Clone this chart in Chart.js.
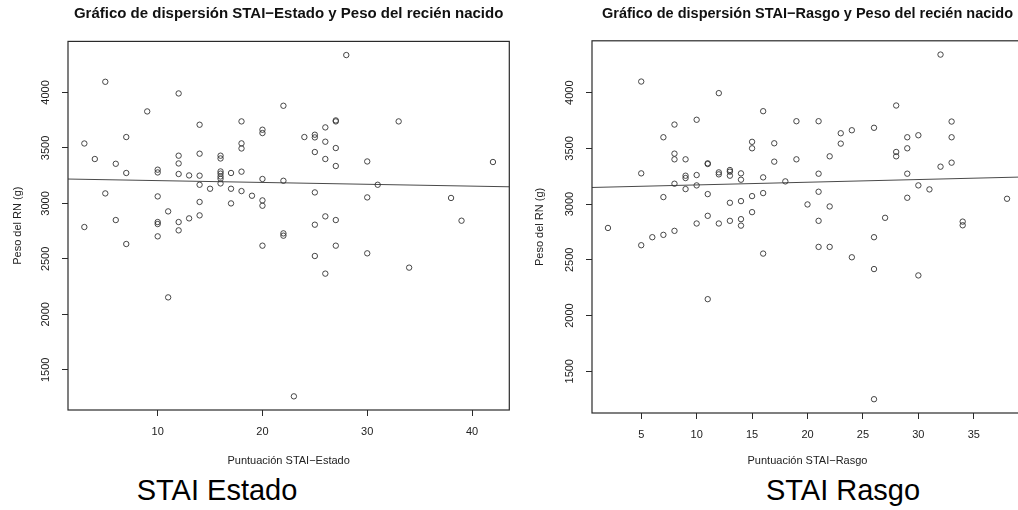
<!DOCTYPE html>
<html lang="es">
<head>
    <meta charset="UTF-8">
    <title>Dispersión STAI y Peso del recién nacido</title>
    <script src="https://cdn.jsdelivr.net/npm/chart.js"></script>
    <style>
        body {
            margin: 0;
            width: 1018px;
            height: 510px;
            overflow: hidden;
            background: #fff;
            position: relative;
            font-family: "Liberation Sans", Arial, sans-serif;
        }
        .panel { position: absolute; top: 0; height: 470px; }
        #panelEstado { left: 0; width: 520px; }
        #panelRasgo { left: 522px; width: 512px; }
        .caption {
            position: absolute;
            top: 476px;
            width: 240px;
            text-align: center;
            font-size: 29px;
            line-height: 29px;
            color: #000;
        }
    </style>
</head>
<body>
    <div class="panel" id="panelEstado"><canvas id="chartEstado"></canvas></div>
    <div class="panel" id="panelRasgo"><canvas id="chartRasgo"></canvas></div>
    <div class="caption" style="left: 97px;">STAI Estado</div>
    <div class="caption" style="left: 723px;">STAI Rasgo</div>

    <script>
        // Puntuación STAI-Estado y peso del RN (g)
        const estadoX = [3,3,4,5,5,6,6,7,7,7,9,
            10,10,10,10,10,10,11,11,12,12,12,12,12,12,13,13,
            14,14,14,14,14,14,15,16,16,16,16,16,16,16,17,17,17,
            18,18,18,18,18,19,20,20,20,20,20,20,22,22,22,22,23,24,
            25,25,25,25,25,25,26,26,26,26,26,27,27,27,27,27,27,
            28,30,30,30,31,33,34,38,39,42];
        const estadoPeso = [3540,2787,3400,4096,3090,3357,2850,3598,3274,2634,3829,
            3304,3279,3063,2832,2814,2703,2928,2153,3991,3430,3360,3265,2832,2757,3252,2865,
            3709,3448,3250,3168,3013,2892,3132,3430,3405,3288,3268,3243,3222,3180,3274,3132,3000,
            3739,3541,3495,3286,3111,3069,3664,3634,3220,3027,2979,2619,3880,3204,2730,2709,1261,3598,
            3619,3595,3463,3099,2808,2526,3685,3556,3400,2883,2367,3748,3739,3499,3337,2850,2619,
            4337,3378,3054,2550,3168,3739,2421,3049,2844,3373];

        // Puntuación STAI-Rasgo y peso del RN (g)
        const rasgoX = [2,5,5,5,6,7,7,7,8,8,8,8,8,9,9,9,9,
            10,10,10,10,11,11,11,11,11,12,12,12,12,13,13,13,13,13,
            14,14,14,14,14,15,15,15,15,16,16,16,16,17,17,18,19,19,20,
            21,21,21,21,21,22,22,22,23,23,24,24,26,26,26,26,27,
            28,28,28,29,29,29,29,30,30,30,31,32,32,33,33,33,34,34,38];
        const rasgoPeso = [2786,4100,3276,2631,2703,3600,3063,2724,3714,3453,3402,3183,2760,3402,3255,3234,3135,
            3757,3261,3168,2826,3366,3360,3090,2895,2147,3996,3285,3267,2826,3306,3291,3255,3012,2850,
            3276,3219,3027,2865,2807,3559,3501,3072,2928,3834,3240,3099,2556,3546,3381,3204,3744,3402,2997,
            3744,3273,3111,2850,2616,3429,2979,2616,3636,3543,3663,2523,3685,2703,2417,1249,2877,
            3885,3468,3429,3600,3501,3273,3057,3618,3168,2360,3132,4342,3336,3741,3600,3372,2843,2810,3048];

        // recta de regresión [intercepto, pendiente]
        const fitEstado = [3222, -1.66];
        const fitRasgo = [3148, 2.42];

        const estadoTicks = [10, 20, 30, 40];
        const rasgoTicks = [5, 10, 15, 20, 25, 30, 35];
        const pesoTicks = [1500, 2000, 2500, 3000, 3500, 4000];

        // rango como en R: +4% a cada lado
        function rango(vals) {
            const lo = Math.min(...vals), hi = Math.max(...vals);
            const d = (hi - lo) * 0.04;
            return [lo - d, hi + d];
        }

        const boxPlugin = {
            id: 'box',
            afterDraw(chart) {
                const a = chart.chartArea, ctx = chart.ctx;
                ctx.save();
                ctx.strokeStyle = '#2a2a2a';
                ctx.lineWidth = 1.2;
                ctx.strokeRect(a.left, a.top, a.right - a.left, a.bottom - a.top);
                ctx.restore();
            }
        };

        function makeChart(id, xs, ys, fit, xTicks, title, xTitle, opts) {
            const xr = rango(xs), yr = rango(ys);
            const pts = xs.map((x, i) => ({ x: x, y: ys[i] }));
            const line = [
                { x: xr[0], y: fit[0] + fit[1] * xr[0] },
                { x: xr[1], y: fit[0] + fit[1] * xr[1] }
            ];
            const tickFont = { family: 'Liberation Sans', size: 11 };
            new Chart(document.getElementById(id), {
                type: 'scatter',
                data: {
                    datasets: [{
                        data: pts,
                        pointStyle: 'circle',
                        pointRadius: 2.7,
                        borderWidth: 0.9,
                        borderColor: '#333',
                        backgroundColor: 'rgba(0,0,0,0)'
                    }, {
                        data: line,
                        showLine: true,
                        pointRadius: 0,
                        borderWidth: 1,
                        borderColor: '#4a4a4a'
                    }]
                },
                options: {
                    responsive: true,
                    maintainAspectRatio: false,
                    animation: false,
                    events: [],
                    layout: { padding: { left: 8, right: opts.padRight, top: 0, bottom: 0 } },
                    plugins: {
                        legend: { display: false },
                        tooltip: { enabled: false },
                        title: {
                            display: true,
                            text: title,
                            fullSize: false,
                            color: '#111',
                            font: { family: 'Liberation Sans', size: opts.titleSize, weight: 'bold' },
                            padding: { top: 5.2, bottom: 18.2 }
                        }
                    },
                    scales: {
                        x: {
                            type: 'linear',
                            min: xr[0],
                            max: xr[1],
                            afterBuildTicks: s => { s.ticks = xTicks.map(v => ({ value: v })); },
                            afterFit: s => { s.height = opts.xHeight; },
                            grid: { drawOnChartArea: false, drawTicks: true, tickLength: 6, color: '#2a2a2a' },
                            border: { display: false },
                            ticks: { font: tickFont, color: '#222', padding: 9.5, maxRotation: 0 },
                            title: {
                                display: true,
                                text: xTitle,
                                color: '#222',
                                font: tickFont,
                                padding: { top: 0, bottom: 2 }
                            }
                        },
                        y: {
                            type: 'linear',
                            min: yr[0],
                            max: yr[1],
                            afterBuildTicks: s => { s.ticks = pesoTicks.map(v => ({ value: v })); },
                            afterFit: s => { s.width = opts.yWidth; },
                            grid: { drawOnChartArea: false, drawTicks: true, tickLength: 6, color: '#2a2a2a' },
                            border: { display: false },
                            ticks: {
                                font: tickFont,
                                color: '#222',
                                padding: 3.5,
                                minRotation: 90,
                                maxRotation: 90,
                                crossAlign: 'center',
                                callback: v => String(v)
                            },
                            title: {
                                display: true,
                                text: 'Peso del RN (g)',
                                color: '#222',
                                font: tickFont,
                                padding: { top: 3.4, bottom: 0 }
                            }
                        }
                    }
                },
                plugins: [boxPlugin]
            });
        }

        makeChart('chartEstado', estadoX, estadoPeso, fitEstado, estadoTicks,
            'Gráfico de dispersión STAI\u2212Estado y Peso del recién nacido',
            'Puntuación STAI\u2212Estado',
            { padRight: 10.7, xHeight: 60, yWidth: 60, titleSize: 15 });

        makeChart('chartRasgo', rasgoX, rasgoPeso, fitRasgo, rasgoTicks,
            'Gráfico de dispersión STAI\u2212Rasgo y Peso del recién nacido',
            'Puntuación STAI\u2212Rasgo',
            { padRight: 11, xHeight: 57, yWidth: 62, titleSize: 14.5 });
    </script>
</body>
</html>
